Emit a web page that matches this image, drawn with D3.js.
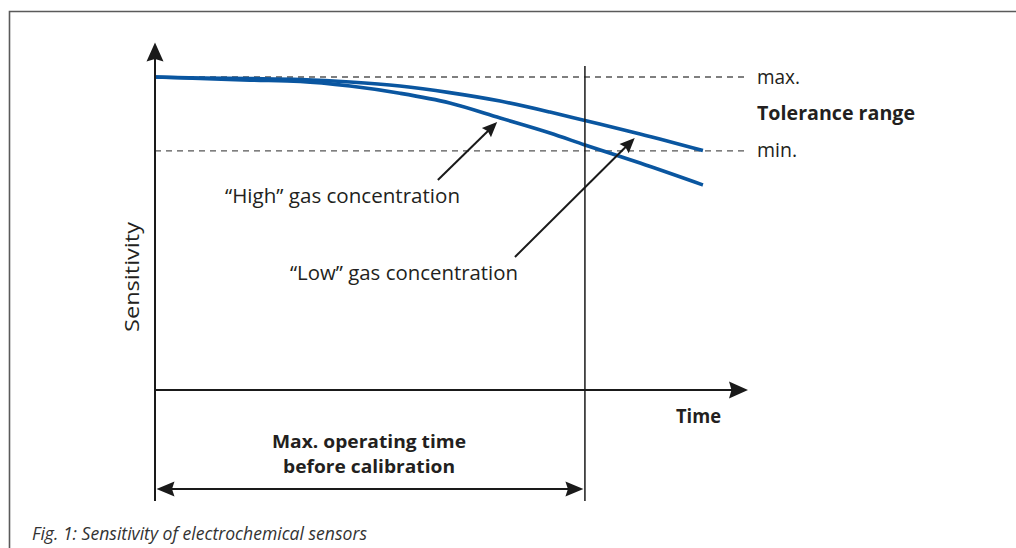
<!DOCTYPE html>
<html>
<head>
<meta charset="utf-8">
<script src="https://cdn.jsdelivr.net/npm/d3@7/dist/d3.min.js"></script>
<style>
  html, body { margin: 0; padding: 0; background: #fff; }
  svg { display: block; }
  text { font-family: "Open Sans", "Noto Sans", sans-serif; fill: #231f20; }
</style>
</head>
<body>
<svg id="chart" width="1016" height="548"></svg>
<script>
// ---- data (time in % of axis length, sensitivity in % of nominal) ----
const time      = [0, 7.6, 16, 24.5, 32.9, 41.3, 49.7, 58.2, 66.6, 72.5, 81.8, 92.4];
const lowConc   = [100, 99.7, 99.5, 99.2, 98.4, 97.1, 95.0, 92.3, 88.8, 86.1, 81.8, 76.5];
const highConc  = [100, 99.5, 99.0, 98.6, 97.1, 94.8, 91.7, 86.9, 82.1, 78.3, 72.5, 65.5];
const toleranceMax = 100;
const toleranceMin = 76.4;
const calibrationTime = 72.5;
const tickLabels = { max: "max.", min: "min.", range: "Tolerance range" };
const seriesLabels = ["\u201CHigh\u201D gas concentration", "\u201CLow\u201D gas concentration"];
const axisLabels = { x: "Time", y: "Sensitivity" };
const spanLabel = ["Max. operating time", "before calibration"];
const caption = "Fig. 1: Sensitivity of electrochemical sensors";

// ---- scales ----
const svg = d3.select("#chart");
const x = d3.scaleLinear().domain([0, 100]).range([155, 748]);
const y = d3.scaleLinear().domain([0, 100]).range([390, 77]);

const ink = "#1a1a1a";
const blue = "#0a56a0";

// frame
svg.append("path").attr("d", "M9.5,548 L9.5,11.5 L1016,11.5")
  .attr("fill", "none").attr("stroke", "#5a5a5a").attr("stroke-width", 1.6);

function arrowHead(tx, ty, angle, len, hw, notch) {
  const c = Math.cos(angle), s = Math.sin(angle);
  const pt = (a, b) => [tx - a * c - b * -s, ty - a * s - b * c];
  const p1 = pt(len, hw), p2 = pt(len - notch, 0), p3 = pt(len, -hw);
  return `M${tx},${ty}L${p1[0]},${p1[1]}L${p2[0]},${p2[1]}L${p3[0]},${p3[1]}Z`;
}

// dashed tolerance lines
[toleranceMax, toleranceMin].forEach(v => {
  svg.append("line")
    .attr("x1", x(0)).attr("x2", x(99.5))
    .attr("y1", y(v)).attr("y2", y(v))
    .attr("stroke", "#555").attr("stroke-width", 1.3)
    .attr("stroke-dasharray", "6,5");
});

// curves
const line = d3.line().x(d => x(d[0])).y(d => y(d[1])).curve(d3.curveMonotoneX);
[lowConc, highConc].forEach(vals => {
  svg.append("path")
    .attr("d", line(time.map((t, i) => [t, vals[i]])))
    .attr("fill", "none").attr("stroke", blue).attr("stroke-width", 3.6)
    .attr("stroke-linecap", "butt");
});

// axes
const yTop = 111, axisBottomExt = -35.5;
svg.append("line").attr("x1", x(0)).attr("x2", x(0))
  .attr("y1", y(yTop) + 10).attr("y2", y(axisBottomExt))
  .attr("stroke", ink).attr("stroke-width", 2);
svg.append("path").attr("d", arrowHead(x(0), y(yTop), -Math.PI / 2, 19, 8.5, 2.5)).attr("fill", ink);

svg.append("line").attr("x1", x(0)).attr("x2", x(100) - 10)
  .attr("y1", y(0)).attr("y2", y(0))
  .attr("stroke", ink).attr("stroke-width", 2);
svg.append("path").attr("d", arrowHead(x(100), y(0), 0, 19, 8.5, 2.5)).attr("fill", ink);

// calibration line
svg.append("line").attr("x1", x(calibrationTime)).attr("x2", x(calibrationTime))
  .attr("y1", y(103.5)).attr("y2", y(axisBottomExt))
  .attr("stroke", ink).attr("stroke-width", 1.5);

// double arrow span
const spanY = y(-31.6);
svg.append("line").attr("x1", x(0) + 10).attr("x2", x(calibrationTime) - 10)
  .attr("y1", spanY).attr("y2", spanY).attr("stroke", ink).attr("stroke-width", 2);
svg.append("path").attr("d", arrowHead(x(0) + 1.5, spanY, Math.PI, 18, 7.5, 2.5)).attr("fill", ink);
svg.append("path").attr("d", arrowHead(x(calibrationTime) - 1.5, spanY, 0, 18, 7.5, 2.5)).attr("fill", ink);

// annotation arrows
const annos = [
  { from: [47.7, 67.1], to: [57.7, 85.6] },
  { from: [60.7, 42.5], to: [80.9, 80.5] }
];
annos.forEach(a => {
  const x1 = x(a.from[0]), y1 = y(a.from[1]), x2 = x(a.to[0]), y2 = y(a.to[1]);
  const ang = Math.atan2(y2 - y1, x2 - x1);
  svg.append("line").attr("x1", x1).attr("y1", y1)
    .attr("x2", x2 - 10 * Math.cos(ang)).attr("y2", y2 - 10 * Math.sin(ang))
    .attr("stroke", ink).attr("stroke-width", 2);
  svg.append("path").attr("d", arrowHead(x2, y2, ang, 15, 6.5, 2)).attr("fill", ink);
});

// texts
function txt(str, px, py, opts) {
  const t = svg.append("text").attr("x", px).attr("y", py).text(str)
    .attr("font-size", opts.size || 18);
  if (opts.weight) t.attr("font-weight", opts.weight);
  if (opts.style) t.attr("font-style", opts.style);
  if (opts.anchor) t.attr("text-anchor", opts.anchor);
  if (opts.len) t.attr("textLength", opts.len).attr("lengthAdjust", "spacingAndGlyphs");
  if (opts.rotate) t.attr("transform", `rotate(${opts.rotate},${px},${py})`);
  if (opts.fill) t.style("fill", opts.fill);
  return t;
}
txt(tickLabels.max, 757, y(toleranceMax) + 6.5, { size: 20, len: 43 });
txt(tickLabels.range, 757, 120, { size: 19.5, weight: 700, len: 158 });
txt(tickLabels.min, 757, y(toleranceMin) + 6.5, { size: 20, len: 40 });
txt(seriesLabels[0], 225, 203, { size: 20.5, len: 235 });
txt(seriesLabels[1], 290, 280, { size: 20.5, len: 228 });
txt(axisLabels.y, 139, 277, { size: 20, anchor: "middle", rotate: -90, len: 110 });
txt(axisLabels.x, 676, 423, { size: 19.5, weight: 700, len: 45 });
txt(spanLabel[0], 369, 448, { size: 18, weight: 700, anchor: "middle", len: 194 });
txt(spanLabel[1], 369, 473, { size: 18, weight: 700, anchor: "middle", len: 172 });
txt(caption, 32, 540, { size: 18, style: "italic", len: 335, fill: "#333" });
</script>
</body>
</html>
